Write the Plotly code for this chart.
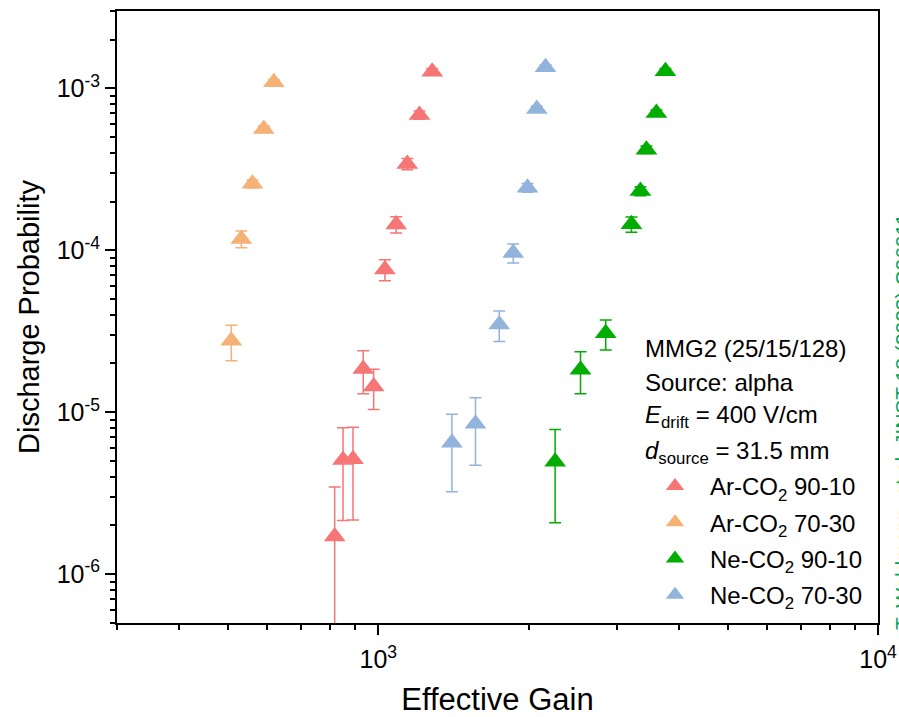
import math
import plotly.graph_objects as go

# ---------------- data ----------------
ar9010_gain = [818, 850, 890, 933, 979, 1031, 1086, 1143, 1209, 1282]
ar9010_prob = [1.71e-6, 5.08e-6, 5.12e-6, 1.85e-5, 1.44e-5, 7.61e-5, 1.443e-4, 3.41e-4, 6.84e-4, 1.264e-3]
ar9010_err = [1.74e-6, 2.93e-6, 2.96e-6, 0.55e-5, 0.40e-5, 1.12e-5, 1.67e-5, 2.7e-5, 4e-5, 6e-5]

ar7030_gain = [508, 532, 560, 590, 618]
ar7030_prob = [2.76e-5, 1.175e-4, 2.57e-4, 5.61e-4, 1.088e-3]
ar7030_err = [0.68e-5, 1.39e-5, 1.5e-5, 2.5e-5, 4e-5]

ne9010_gain = [2259, 2539, 2852, 3211, 3346, 3440, 3602, 3755]
ne9010_prob = [4.95e-6, 1.83e-5, 3.07e-5, 1.45e-4, 2.32e-4, 4.18e-4, 7.04e-4, 1.274e-3]
ne9010_err = [2.87e-6, 0.53e-5, 0.645e-5, 1.56e-5, 1.5e-5, 2.2e-5, 3e-5, 5e-5]

ne7030_gain = [1404, 1565, 1746, 1862, 1989, 2076, 2161]
ne7030_prob = [6.48e-6, 8.49e-6, 3.48e-5, 9.63e-5, 2.43e-4, 7.45e-4, 1.347e-3]
ne7030_err = [3.25e-6, 3.78e-6, 0.745e-5, 1.29e-5, 1.5e-5, 3e-5, 5e-5]

series_names = ["Ar-CO<sub>2</sub> 90-10", "Ar-CO<sub>2</sub> 70-30",
                "Ne-CO<sub>2</sub> 90-10", "Ne-CO<sub>2</sub> 70-30"]
series_colors = ["#F67575", "#F5B176", "#00AD00", "#92B4DC"]

x_range = [300, 10000]
y_range = [5e-7, 3e-3]
x_major = [1e3, 1e4]
x_major_text = ["10<sup>3</sup>", "10<sup>4</sup>"]
y_major = [1e-6, 1e-5, 1e-4, 1e-3]
y_major_text = ["10<sup>-6</sup>", "10<sup>-5</sup>", "10<sup>-4</sup>", "10<sup>-3</sup>"]

info_lines = ["MMG2 (25/15/128)", "Source: alpha",
              "<i>E</i><sub>drift</sub> = 400 V/cm",
              "<i>d</i><sub>source</sub> = 31.5 mm"]
credit = "T. Waldmann, et al. JINST 18 (2023) C06011"

FONT = "Liberation Sans, Arial, sans-serif"

fig = go.Figure()
groups = [
    (ar9010_gain, ar9010_prob, ar9010_err),
    (ar7030_gain, ar7030_prob, ar7030_err),
    (ne9010_gain, ne9010_prob, ne9010_err),
    (ne7030_gain, ne7030_prob, ne7030_err),
]
for i, ((gx, gy, ge), name, col) in enumerate(zip(groups, series_names, series_colors)):
    fig.add_trace(go.Scatter(
        x=gx, y=gy, mode="markers", name=name, legendgroup=f"g{i}",
        marker=dict(symbol="triangle-up", size=19, color=col, line=dict(width=0)),
        error_y=dict(type="data", array=ge, visible=True, color=col, thickness=1.5, width=6),
    ))

def minor_vals(lo_exp, hi_exp):
    vals = []
    for e in range(lo_exp, hi_exp):
        for m in range(2, 10):
            vals.append(m * 10 ** e)
    return vals

xminor = [v for v in minor_vals(2, 4) if x_range[0] <= v <= x_range[1]]
yminor = [v for v in minor_vals(-7, -2) if y_range[0] * 0.999 <= v <= y_range[1] * 1.001]

axis_common = dict(
    showline=True, linecolor="black", linewidth=2, mirror=True,
    ticks="outside", ticklen=10, tickwidth=2, tickcolor="black",
    showgrid=False, zeroline=False, automargin=False,
    tickfont=dict(family=FONT, size=25, color="black"),
)

fig.update_xaxes(
    type="log", range=[math.log10(x_range[0]), math.log10(x_range[1])],
    tickmode="array", tickvals=x_major, ticktext=x_major_text,
    minor=dict(tickmode="array", tickvals=xminor, ticks="outside", ticklen=5,
               tickwidth=2, tickcolor="black", showgrid=False),
    title=dict(text="Effective Gain", font=dict(family=FONT, size=31, color="black"), standoff=18),
    ticklabelstandoff=3,
    **axis_common,
)
fig.update_yaxes(
    type="log", range=[math.log10(y_range[0]), math.log10(y_range[1])],
    tickmode="array", tickvals=y_major, ticktext=y_major_text,
    minor=dict(tickmode="array", tickvals=yminor, ticks="outside", ticklen=5,
               tickwidth=2, tickcolor="black", showgrid=False),
    title=dict(text="Discharge Probability", font=dict(family=FONT, size=29, color="black"), standoff=8),
    **axis_common,
)

L, R, T, B = 117, 21, 11, 94
W, H = 899, 717
pw, ph = W - L - R, H - T - B

def px2paper(px, py):
    return (px - L) / pw, (H - B - py) / ph

line_y = [348, 382, 416, 452]
for txt, py in zip(info_lines, line_y):
    xp, yp = px2paper(644, py)
    fig.add_annotation(x=xp, y=yp, xref="paper", yref="paper", text=txt,
                       showarrow=False, xanchor="left", yanchor="middle", borderpad=0,
                       font=dict(family=FONT, size=24, color="black"))

cx, cy = px2paper(902, 422)
fig.add_annotation(x=cx, y=cy, xref="paper", yref="paper", text=credit,
                   showarrow=False, textangle=-90, xanchor="center", yanchor="middle",
                   font=dict(family=FONT, size=21, color="#00A651"))

lx, ly = px2paper(640, 464)
fig.update_layout(
    width=W, height=H,
    margin=dict(l=L, r=R, t=T, b=B, pad=0, autoexpand=False),
    paper_bgcolor="white", plot_bgcolor="white",
    showlegend=True,
    legend=dict(x=lx, y=ly, xanchor="left", yanchor="top", bgcolor="rgba(0,0,0,0)",
                font=dict(family=FONT, size=24, color="black"), itemwidth=60,
                tracegroupgap=2, traceorder="grouped"),
)

fig.write_html("out.html")
